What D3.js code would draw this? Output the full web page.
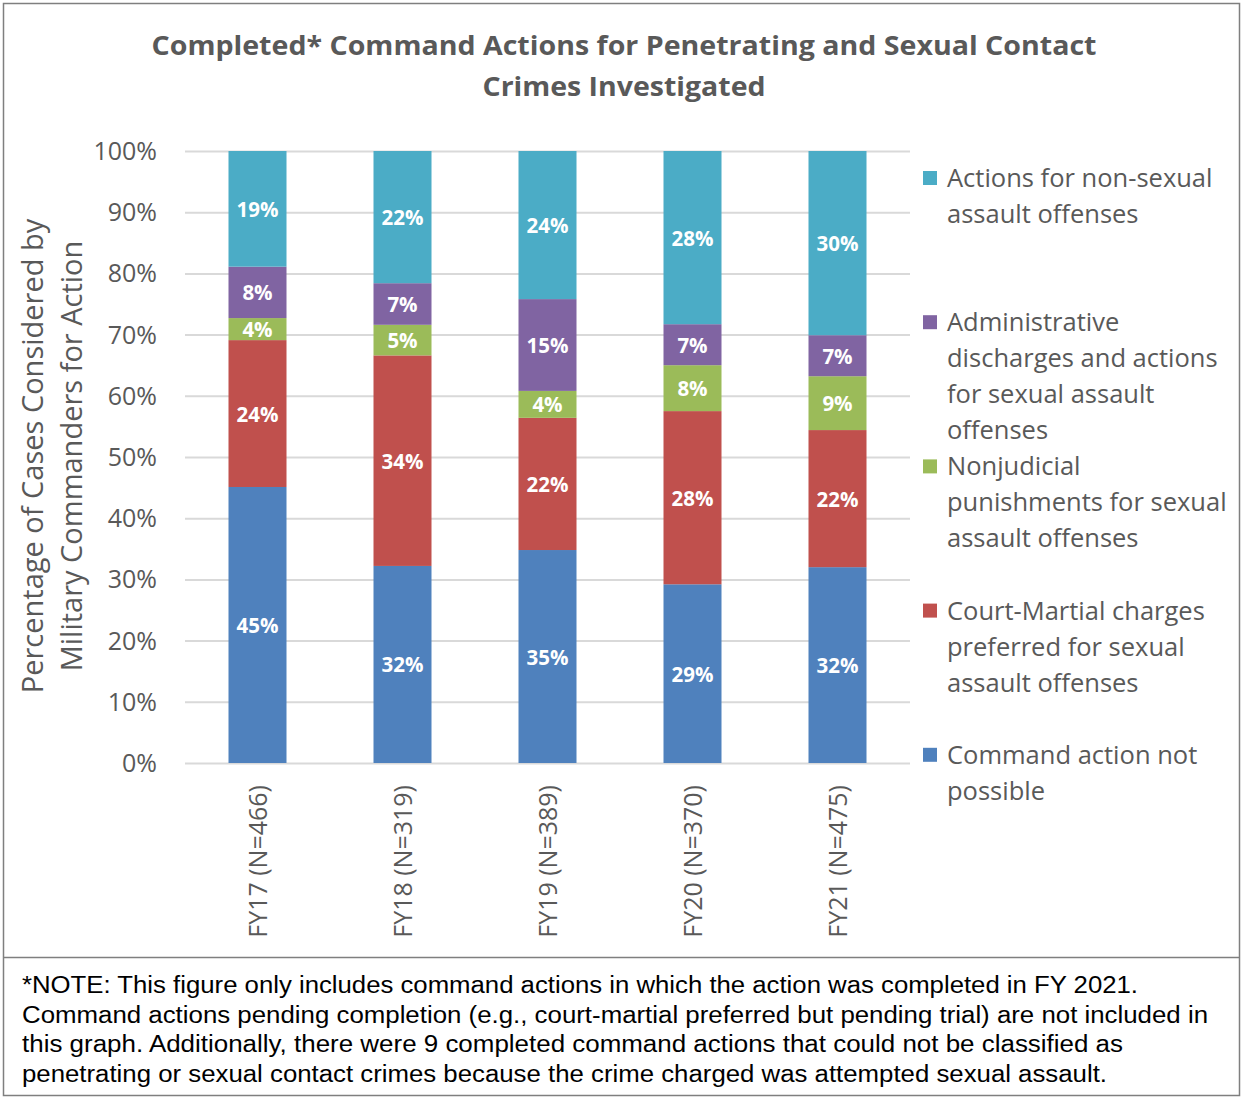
<!DOCTYPE html>
<html>
<head>
<meta charset="utf-8">
<script src="https://cdn.jsdelivr.net/npm/d3@7"></script>
<style>
  body { margin: 0; background: #fff; }
  svg { display: block; }
</style>
</head>
<body>
<div id="graphicContainer"></div>
<script>

// categories and series, bottom to top of each stack
var years = ["FY17 (N=466)", "FY18 (N=319)", "FY19 (N=389)", "FY20 (N=370)", "FY21 (N=475)"]
var seriesNames = ["Command action not possible", "Court-Martial charges preferred for sexual assault offenses", "Nonjudicial punishments for sexual assault offenses", "Administrative discharges and actions for sexual assault offenses", "Actions for non-sexual assault offenses"]

var notPossible = [45.1, 32.2, 34.8, 29.2, 32.0]
var courtMartial = [24.0, 34.4, 21.6, 28.3, 22.4]
var nonjudicial = [3.6, 5.0, 4.4, 7.5, 8.8]
var administrative = [8.4, 6.8, 15.0, 6.7, 6.7]
var nonSexual = [18.9, 21.6, 24.2, 28.3, 30.1]

var yTicks = [0, 10, 20, 30, 40, 50, 60, 70, 80, 90, 100]

// legend lines, top to bottom
var legendLines = [
	["Actions for non-sexual", "assault offenses"],
	["Administrative", "discharges and actions", "for sexual assault", "offenses"],
	["Nonjudicial", "punishments for sexual", "assault offenses"],
	["Court-Martial charges", "preferred for sexual", "assault offenses"],
	["Command action not", "possible"]
]

var titleLines = ["Completed* Command Actions for Penetrating and Sexual Contact", "Crimes Investigated"]
var titleWidths = [945, 283]

var noteLines = [
	"*NOTE: This figure only includes command actions in which the action was completed in FY 2021.",
	"Command actions pending completion (e.g., court-martial preferred but pending trial) are not included in",
	"this graph. Additionally, there were 9 completed command actions that could not be classified as",
	"penetrating or sexual contact crimes because the crime charged was attempted sexual assault."
]
var noteWidths = [1116, 1186, 1101, 1085]

var colors = ["#4f81bd", "#c0504d", "#9bbb59", "#8064a2", "#4bacc6"]

function init() {

	var width = 1243
	var height = 1099
	var font = "'Open Sans', Lato, sans-serif"
	var grey = "#595959"

	var svg = d3.select("#graphicContainer").append("svg")
		.attr("width", width)
		.attr("height", height)

	// frame
	svg.append("rect")
		.attr("x", 3.5).attr("y", 3.5)
		.attr("width", 1236).attr("height", 1092)
		.attr("fill", "none").attr("stroke", "#7f7f7f").attr("stroke-width", 1.5)

	svg.append("line")
		.attr("x1", 3).attr("x2", 1240)
		.attr("y1", 957.5).attr("y2", 957.5)
		.attr("stroke", "#7f7f7f").attr("stroke-width", 1.5)

	// title
	svg.append("g").selectAll("text")
		.data(titleLines)
		.enter().append("text")
		.attr("x", 624)
		.attr("y", (d, i) => 55 + i * 41)
		.attr("text-anchor", "middle")
		.attr("font-family", font).attr("font-weight", "bold")
		.attr("font-size", 27).attr("fill", grey)
		.attr("textLength", (d, i) => titleWidths[i])
		.attr("lengthAdjust", "spacingAndGlyphs")
		.text(d => d)

	var x = d3.scaleBand()
		.domain(years)
		.range([185, 910])
		.paddingInner(0.6)
		.paddingOuter(0.3)

	var y = d3.scaleLinear()
		.domain([0, 100])
		.range([763, 151])

	// gridlines + y labels
	var yAxis = d3.axisLeft(y)
		.tickValues(yTicks)
		.tickSize(-(910 - 185))
		.tickFormat(d => d + "%")
		.tickPadding(28)

	var gy = svg.append("g")
		.attr("transform", "translate(185,0)")
		.call(yAxis)

	gy.select(".domain").remove()
	gy.selectAll(".tick line").attr("stroke", "#d9d9d9").attr("stroke-width", 2)
	gy.selectAll(".tick text")
		.attr("font-family", font).attr("font-size", 25).attr("fill", grey)
		.attr("dy", "0.34em")

	// y axis title
	svg.append("text")
		.attr("transform", "translate(0,456) rotate(-90)")
		.attr("text-anchor", "middle")
		.attr("font-family", font).attr("font-size", 29).attr("fill", grey)
		.selectAll("tspan")
		.data(["Percentage of Cases Considered by", "Military Commanders for Action"])
		.enter().append("tspan")
		.attr("x", 0)
		.attr("y", (d, i) => 43 + i * 39)
		.text(d => d)

	// stacked data
	var rows = years.map(function(yr, i) {
		return { year: yr, s0: notPossible[i], s1: courtMartial[i], s2: nonjudicial[i], s3: administrative[i], s4: nonSexual[i] }
	})

	var stack = d3.stack().keys(["s0", "s1", "s2", "s3", "s4"])
	var stacked = stack(rows)

	var layers = svg.append("g").selectAll("g")
		.data(stacked)
		.enter().append("g")
		.attr("fill", (d, i) => colors[i])

	layers.selectAll("rect")
		.data(d => d)
		.enter().append("rect")
		.attr("x", d => x(d.data.year))
		.attr("width", x.bandwidth())
		.attr("y", d => y(d[1]))
		.attr("height", d => y(d[0]) - y(d[1]))

	layers.selectAll("text")
		.data(d => d)
		.enter().append("text")
		.attr("x", d => x(d.data.year) + x.bandwidth() / 2)
		.attr("y", d => (y(d[0]) + y(d[1])) / 2 + 8)
		.attr("text-anchor", "middle")
		.attr("font-family", font).attr("font-weight", "bold")
		.attr("font-size", 20.5).attr("fill", "#fff")
		.text(d => Math.round(d[1] - d[0]) + "%")

	// x labels
	svg.append("g").selectAll("text")
		.data(years)
		.enter().append("text")
		.attr("transform", d => "translate(" + (x(d) + x.bandwidth() / 2 + 9) + ",785) rotate(-90)")
		.attr("text-anchor", "end")
		.attr("font-family", font).attr("font-size", 25).attr("fill", grey)
		.text(d => d)

	// legend
	var legend = svg.append("g").selectAll("g")
		.data(legendLines)
		.enter().append("g")
		.attr("transform", (d, i) => "translate(923," + (178 + i * 144.2) + ")")

	legend.append("rect")
		.attr("x", 0).attr("y", -7)
		.attr("width", 14).attr("height", 14)
		.attr("fill", (d, i) => colors[4 - i])

	legend.append("text")
		.attr("font-family", font).attr("font-size", 25.5).attr("fill", grey)
		.selectAll("tspan")
		.data(d => d)
		.enter().append("tspan")
		.attr("x", 24)
		.attr("y", (d, i) => 9 + i * 36)
		.text(d => d)

	// note
	svg.append("g").selectAll("text")
		.data(noteLines)
		.enter().append("text")
		.attr("x", 22)
		.attr("y", (d, i) => 993 + i * 29.7)
		.attr("font-family", "'Liberation Sans Narrow', 'Liberation Sans', Arial, sans-serif")
		.attr("font-size", 23).attr("fill", "#000")
		.attr("textLength", (d, i) => noteWidths[i])
		.attr("lengthAdjust", "spacingAndGlyphs")
		.text(d => d)

}

init()
</script>
</body>
</html>
